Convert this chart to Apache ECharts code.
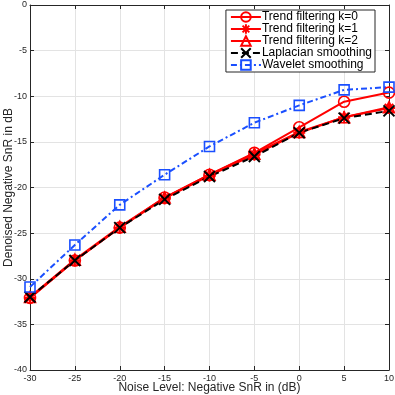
<!DOCTYPE html>
<html>
<head>
<meta charset="utf-8">
<script src="https://cdn.jsdelivr.net/npm/echarts@6/dist/echarts.min.js"></script>
<style>
html,body{margin:0;padding:0;background:#fff;}
#chart{width:395px;height:395px;}
</style>
</head>
<body>
<div id="chart"></div>
<script>
var noiseLevels = [-30, -25, -20, -15, -10, -5, 0, 5, 10];
var trendK0 = [-32.1, -28.0, -24.4, -21.1, -18.6, -16.2, -13.4, -10.6, -9.6];
var trendK1 = [-32.1, -28.0, -24.4, -21.2, -18.7, -16.4, -14.0, -12.3, -11.3];
var trendK2 = [-32.0, -27.9, -24.3, -21.1, -18.6, -16.3, -13.9, -12.3, -11.2];
var laplacian = [-32.0, -28.0, -24.4, -21.3, -18.8, -16.6, -14.0, -12.4, -11.6];
var wavelet = [-30.9, -26.3, -21.9, -18.6, -15.5, -12.9, -11.0, -9.3, -9.0];

var asterisk = 'path://M0,-10L0,10M-10,0L10,0M-7,-7L7,7M-7,7L7,-7';
var cross = 'path://M-10,-10L10,10M-10,10L10,-10';

function pairs(v){
	var out = [];
	for(let i = 0;i<noiseLevels.length;i++){
		out.push([noiseLevels[i], v[i]]);
	}
	return out;
}

var txt = '#262626';
var font = 'Liberation Sans';

function makeSeries(name, data, color, symbol, size, lineType, bw){
	return {
		name:name,
		type:'line',
		data:pairs(data),
		symbol:symbol,
		symbolSize:size,
		showSymbol:true,
		lineStyle:{color:color, width:2, type:lineType},
		itemStyle:{color:'rgba(0,0,0,0)', borderColor:color, borderWidth:bw},
		emphasis:{disabled:true},
		animation:false
	};
}

var seriesArr = [
	makeSeries('Trend filtering k=0', trendK0, '#ff0000', 'circle', 11, 'solid', 1.6),
	makeSeries('Trend filtering k=1', trendK1, '#ff0000', asterisk, 12, 'solid', 2),
	makeSeries('Trend filtering k=2', trendK2, '#ff0000', 'triangle', 11, 'solid', 1.6),
	makeSeries('Laplacian smoothing', laplacian, '#000000', cross, 11, [7, 4], 2),
	makeSeries('Wavelet smoothing', wavelet, '#1a4fff', 'rect', 10, [6, 3, 2, 3], 1.6)
];

var boxAxis = {
	axisLine:{onZero:false, lineStyle:{color:'#262626'}},
	axisTick:{inside:true, length:4, lineStyle:{color:'#262626'}},
	axisLabel:{show:false}, splitLine:{show:false}
};

var myChart = echarts.init(document.getElementById('chart'));
var option = {
	animation:false,
	textStyle:{fontFamily:font},
	grid:{left:30, right:6, top:5, bottom:25, containLabel:false, outerBoundsMode:'none'},
	legend:{
		right:20, top:10,
		orient:'vertical',
		backgroundColor:'#fff',
		borderColor:'#262626',
		borderWidth:1,
		padding:[1, 3, 1, 4],
		itemGap:0,
		itemWidth:30,
		itemHeight:12,
		textStyle:{fontSize:12, lineHeight:12, color:'#000', fontFamily:font, padding:[0,0,0,-4]},
		data:seriesArr.map(function(s){return s.name;})
	},
	xAxis:[{
		type:'value', min:-30, max:10, interval:5,
		name:'Noise Level: Negative SnR in (dB)',
		nameLocation:'middle', nameGap:12, nameMoveOverlap:false,
		nameTextStyle:{fontSize:12, color:txt},
		axisLine:{onZero:false, lineStyle:{color:'#262626'}},
		axisTick:{inside:true, length:4, lineStyle:{color:'#262626'}},
		axisLabel:{fontSize:9, color:txt, margin:4},
		splitLine:{show:true, lineStyle:{color:'#e3e3e3'}}
	}, Object.assign({type:'value', min:-30, max:10, interval:5, position:'top'}, boxAxis)],
	yAxis:[{
		type:'value', min:-40, max:0, interval:5,
		name:'Denoised Negative SnR in dB',
		nameLocation:'middle', nameGap:15, nameMoveOverlap:false,
		nameTextStyle:{fontSize:12, color:txt},
		axisLine:{onZero:false, lineStyle:{color:'#262626'}},
		axisTick:{inside:true, length:4, lineStyle:{color:'#262626'}},
		axisLabel:{fontSize:9, color:txt, margin:3},
		splitLine:{show:true, lineStyle:{color:'#e3e3e3'}}
	}, Object.assign({type:'value', min:-40, max:0, interval:5, position:'right'}, boxAxis)],
	series:seriesArr
};
myChart.setOption(option);
</script>
</body>
</html>
